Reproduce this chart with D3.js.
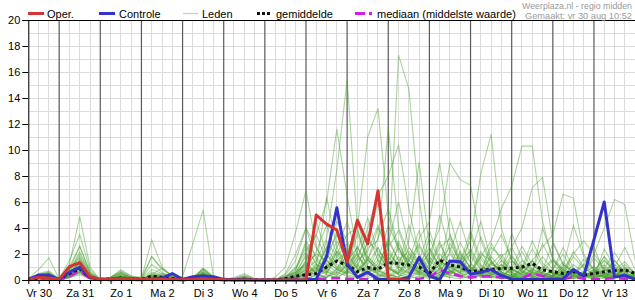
<!DOCTYPE html>
<html><head><meta charset="utf-8">
<script src="https://cdn.jsdelivr.net/npm/d3@7"></script>
<style>
html,body{margin:0;padding:0;background:#fff;}
svg{display:block;font-family:"Liberation Sans",Arial,sans-serif;}
</style></head>
<body><svg id="chart" width="635" height="300"></svg>
<script>
// ---- data ----
const dayLabels = ["Vr 30","Za 31","Zo 1","Ma 2","Di 3","Wo 4","Do 5","Vr 6","Za 7","Zo 8","Ma 9","Di 10","Wo 11","Do 12","Vr 13"];
const yTickLabels = [0,2,4,6,8,10,12,14,16,18,20];
const startHour = 6;      // Vr 30 06:00
const stepHours = 6;
const legendLabels = ["Oper.","Controle","Leden","gemiddelde","mediaan (middelste waarde)"];
const sourceText = "Weerplaza.nl - regio midden";
const madeText = "Gemaakt: vr 30 aug 10:52";

const oper = [0.05,0.2,0.15, 0.05,1.03,1.33,0.26, 0.05,0.08,0.1,0.1, 0.05,0.05,0.05,0.03, 0.02,0.05,0.1,0.05, 0.02,0,0,0, 0,0,0,0, 0,5.0,4.3,3.85, 1.4,4.6,2.77,6.87, 0.1,0.03,0];
const controle = [0.05,0.38,0.38, 0.05,0.6,0.97,0.2, 0.05,0.05,0.1,0.1, 0.05,0.05,0.15,0.5, 0.05,0.25,0.3,0.25, 0.05,0.02,0.02,0, 0,0,0,0, 0,0.05,1.8,5.56, 1.23,0.2,0.6,0.05, 0.05,0.02,0.2,1.74, 0.3,0.02,1.46,1.4, 0.45,0.6,0.8,0.35, 0.05,0.03,0.03,0.03, 0.03,0.1,0.8,0.3, 3.1,6.0,0.22,0.36, 0.05];
const gemiddelde = [0.05,0.15,0.2, 0.05,0.5,0.85,0.2, 0.05,0.05,0.15,0.1, 0.05,0.3,0.2,0.1, 0.05,0.1,0.3,0.1, 0.02,0.02,0.05,0.02, 0,0,0.1,0.3, 0.4,0.5,1.0,1.45, 1.15,0.64,0.95,0.82, 1.33,1.28,1.15,1.0, 0.5,1.54,1.15,1.0, 0.64,0.77,0.82,0.9, 0.9,1.0,1.28,0.77, 0.64,0.5,0.64,0.38, 0.5,0.64,0.72,0.77, 0.5];
const mediaan = [0,0.05,0.1, 0,0.3,0.7,0.1, 0,0,0.05,0, 0,0.05,0.05,0, 0,0,0.1,0, 0,0,0,0, 0,0,0,0.05, 0.1,0.1,0.1,0.15, 0.1,0.05,0.05,0.05, 0.05,0.1,0.1,0.1, 0.2,0.77,0.5,0.3, 0.2,0.25,0.3,0.2, 0.1,0.1,0.5,0.3, 0.1,0.05,0.25,0.1, 0.05,0.1,0.15,0.1, 0.05];

const leden = [
[0,.2,.3, 0,.5,1.0,.2, 0,.1,.3,.1, 0,.2,.1,0, 0,.1,.4,.1, 0,0,0,0, 0,0,.3,.6, 1.2,2.0,1.5,.8, 2.5,1.0,3.0,2.2, 1.5,17.3,14.7,6.2, 1.0,2.5,3.2,1.1, .5,1.8,.9,.3, .2,.6,1.2,.4, .1,.3,.8,.2, .5,1.0,.4,.2, .1],
[0,.1,.2, 0,.8,1.8,.4, 0,0,.2,.1, .1,.3,.2,.1, 0,.2,.8,.2, 0,0,.1,0, 0,0,.1,.3, .8,1.5,3.2,8.5, 15.4,4.0,1.2,2.5, 1.0,.6,2.0,1.2, .3,.8,1.5,.6, 3.5,1.2,.4,.8, 1.5,.6,.3,.2, .1,.5,2.2,1.0, .4,.3,.8,1.4, .5],
[0,.4,.6, 0,.7,2.2,.5, 0,.1,.5,.2, 0,.5,.3,.2, 0,.1,.9,.3, 0,0,.2,0, 0,0,0,.2, 1.5,3.5,6.0,11.6, 6.5,2.0,.8,1.5, 4.2,2.5,.9,.5, 1.2,3.0,.8,.3, .6,2.0,1.5,.5, .2,1.0,.5,.3, .8,2.5,.9,.3, .2,.4,1.2,.6, .2],
[0,.2,.1, 0,.4,.9,.2, 0,0,.1,0, 0,.1,0,0, 0,0,.3,0, 0,0,0,0, 0,0,.2,1.0, 2.5,1.2,.8,2.0, 3.5,4.0,11.0,13.2, 5.0,2.2,1.5,3.8, 1.0,.5,2.2,4.5, 1.8,.8,.5,1.2, .3,.2,.6,2.8, 1.2,.5,.3,.2, .8,1.5,.6,.2, .1],
[0,.3,.5, 0,.3,.6,.1, 0,.2,.6,.2, 0,1.8,.9,.3, 0,.1,.5,.1, 0,0,.1,0, 0,0,.4,1.5, 4.0,2.5,1.0,3.0, 1.5,.5,2.5,3.0, 11.7,4.0,2.0,.8, .5,1.5,.9,2.0, 1.0,.6,2.5,1.8, .5,.3,.2,.6, 1.5,.6,.3,.5, .2,.8,.4,.3, .2],
[0,.1,.1, 0,.2,.5,.1, 0,0,.1,0, 0,0,0,0, 0,0,.2,0, 0,0,0,0, 0,0,0,.1, .5,.8,2.5,4.5, 3.0,1.5,4.0,6.5, 8.0,10.4,5.5,2.0, .8,.4,1.0,.6, 2.0,4.5,1.5,.6, .3,.8,1.5,.4, .2,.1,.5,1.2, 2.5,.6,.3,.8, .4],
[0,.5,.7, .1,1.0,2.6,.6, 0,.2,.8,.3, .1,.4,.2,.1, 0,.2,.6,.2, 0,.1,.3,.1, 0,0,.1,.5, 2.0,1.0,6.4,2.5, 1.0,3.5,1.5,.8, 2.0,1.2,3.0,9.1, 2.5,1.0,.5,1.8, .6,.3,1.2,2.0, .8,.5,1.5,.6, .3,1.0,.4,.2, .6,1.8,.5,.3, .2],
[0,.2,.2, 0,.6,1.5,.3, 0,.1,.4,.1, 0,.3,.5,.2, 0,.1,.6,.1, 0,0,.1,0, 0,0,.2,.8, 3.0,1.8,.6,1.5, 2.2,.8,1.5,4.0, 2.5,1.0,.6,3.2, 4.5,9.0,3.5,1.2, 2.0,.8,.4,1.5, .6,2.2,.8,.3, .1,.5,1.8,.9, .4,.2,1.0,2.5, .8],
[0,.1,.3, 0,.3,.8,.2, 0,0,.2,.1, 0,.1,.3,.1, 0,0,.2,0, 0,0,0,0, 0,0,.1,.4, 1.0,.6,1.8,3.5, 1.2,2.0,.5,1.0, 3.0,1.5,2.2,1.2, 2.0,4.0,9.0,7.7, 7.3,3.0,1.2,.8, 2.5,1.0,.6,.3, .8,2.0,.6,.4, .2,.6,1.5,.5, .3],
[0,.2,.4, 0,.5,1.1,.2, 0,.1,.3,.1, 0,.2,.4,.2, 0,.1,.3,.1, 0,0,.2,0, 0,0,.2,.6, 1.8,.8,2.5,1.2, .6,1.8,3.5,1.5, .8,2.5,1.2,.6, 1.5,.8,2.8,1.5, 3.0,8.2,11.2,4.0, 1.5,.8,.4,1.0, .5,.3,1.2,.6, .4,1.5,.8,.3, .2],
[0,.3,.2, 0,.4,1.4,.3, 0,0,.2,.1, 0,.1,.1,0, 0,0,.4,.1, 0,0,0,0, 0,0,0,.3, .8,.4,1.0,2.2, 1.5,.6,1.8,1.0, 2.5,3.8,1.5,.7, .4,1.2,2.0,.9, .5,1.8,3.0,5.5, 7.2,10.3,10.3,4.5, 1.5,.8,.4,.6, 1.0,.5,.3,.8, .4],
[0,.1,.2, 0,.2,.7,.1, 0,0,.1,0, 0,0,.2,0, 0,0,.1,0, 0,0,0,0, 0,0,.1,.2, .6,.9,.5,1.8, 2.8,1.2,.6,2.5, 1.0,.5,1.5,2.8, 1.2,.6,.4,1.5, 2.2,1.0,.6,1.8, 2.5,4.0,7.1,7.9, 3.0,1.2,.6,.3, .8,.4,1.5,.6, .3],
[0,.2,.1, 0,.3,.9,.2, 0,.1,.2,.1, 0,.2,.3,.1, 0,0,.2,0, 0,0,.1,0, 0,0,0,.2, .4,1.2,.8,.5, 1.5,2.5,1.0,.6, 1.8,.9,2.5,1.4, .6,2.0,1.0,.5, 1.2,.6,2.8,1.5, .8,.4,1.5,2.5, 3.5,6.6,6.3,2.0, .8,.5,.3,1.0, .6],
[0,.3,.5, 0,.5,1.3,.4, 0,.1,.5,.2, 0,.6,.4,.2, 0,.2,.5,.1, 0,.1,.2,0, 0,0,.3,.9, 2.2,3.5,1.5,.8, .5,1.5,2.2,4.2, 1.8,.8,.5,1.2, 2.5,1.0,.6,2.2, .9,.4,1.8,.8, .5,1.5,.6,.3, .2,.8,2.0,3.0, 2.0,4.0,6.2,5.8, 1.5],
[0,.1,.2, 0,.4,1.0,.2, 0,0,.2,.1, 0,.1,.2,.1, 0,.1,.3,.1, 0,0,0,0, 0,.2,1.0,3.7, 6.9,2.5,1.2,.6, 2.0,4.5,1.8,.8, 3.2,1.5,.6,.4, .9,2.8,1.2,.5, .3,.8,.4,1.2, .6,.3,.8,.5, .2,1.2,.6,.3, .5,.2,.8,.4, .2],
[0,.2,.3, 0,.5,.8,.2, 0,.1,.3,.1, 0,.3,.2,.1, .3,2.8,5.4,.3, 0,.1,.2,0, 0,0,.5,2.0, 4.0,1.5,.8,2.5, 4.5,1.8,.9,.5, 1.4,3.0,1.2,.6, .4,1.5,2.5,1.0, .6,2.2,.9,.4, 1.8,.7,.3,.9, 1.6,.6,.3,.2, .5,1.2,.4,.3, .1],
[0,.4,.5, 0,1.2,4.9,1.0, 0,.2,.5,.2, .1,3.1,1.0,.3, 0,.1,.4,.1, 0,0,.1,0, 0,0,.2,.5, 1.2,.6,3.0,1.8, .8,1.2,2.8,6.0, 2.2,1.0,.5,1.5, 3.8,1.6,.7,.4, 1.0,.5,2.0,3.5, 1.5,.6,.3,.8, 2.8,1.2,.5,.3, .6,1.8,.9,.4, .2],
[.1,.8,1.7, .1,1.5,3.5,.8, 0,.2,.7,.3, .2,1.8,.8,.3, 0,.2,.9,.2, 0,.2,.5,.1, 0,0,0,.4, 1.5,4.5,2.0,1.0, .6,2.2,4.8,2.0, .9,.5,1.8,.8, 3.2,1.4,.6,1.0, 2.4,1.1,.5,.3, .9,2.6,1.2,.5, .3,.8,.4,1.6, .7,.3,.2,.9, .4],
[0,.3,.4, 0,.8,2.6,.6, 0,.1,.4,.2, .1,1.2,.6,.2, 0,.1,.7,.2, 0,.1,.3,0, 0,0,.1,.3, .9,2.2,4.2,2.0, 1.0,.5,1.6,3.2, 5.5,2.5,1.0,.6, 1.8,.8,3.5,1.6, .7,.4,1.4,.6, 3.6,1.6,.7,.3, .5,1.4,.6,.3, .2,2.4,1.0,.5, .3],
[0,.2,.3, 0,.6,2.0,.5, 0,0,.3,.1, 0,.4,.3,.1, 0,0,.5,.1, 0,0,.1,0, 0,0,0,.1, .3,.6,1.4,3.8, 2.0,.9,.5,1.3, 2.8,6.0,2.6,1.2, .6,.3,1.0,2.9, 1.3,.6,.3,.8, 1.9,.8,2.4,1.1, .5,.3,.9,.4, 1.7,.8,.4,.2, .1],
[0,.1,.1, 0,.2,.6,.1, 0,0,.1,0, 0,.1,.1,0, 0,0,.1,0, 0,0,0,0, 0,0,0,.2, .6,.3,.9,1.6, .7,2.6,1.1,.5, .3,1.0,4.2,1.8, .8,.4,.2,.6, 1.1,3.3,1.4,.6, .3,.2,.7,1.8, .8,.4,.2,.6, .3,.9,2.1,.9, .4],
[0,.4,.6, 0,.9,1.7,.4, 0,.2,.6,.2, .1,.8,.5,.2, 0,.1,.8,.2, 0,.1,.4,.1, 0,0,.2,.7, 2.8,1.2,.6,.4, 1.2,3.8,1.6,.7, .4,.2,.9,2.6, 1.2,5.0,2.2,.9, .5,.3,.8,.4, .2,.9,3.0,1.3, .6,.3,.1,.5, .3,.2,.6,1.2, .5],
[0,.1,.2, 0,.3,1.1,.2, 0,0,.1,0, 0,.2,.1,0, 0,0,.3,0, 0,0,0,0, 0,0,.1,.3, .7,.4,.2,.9, 1.8,.8,.4,2.0, .9,.4,.2,.7, 2.2,1.0,4.8,2.0, .9,.4,.2,.6, .3,1.2,.5,4.0, 1.7,.8,.4,.2, .7,.3,.2,.5, .2],
[0,.2,.3, 0,.4,1.6,.3, 0,.1,.3,.1, 0,.2,.2,.1, 0,.1,.5,.1, 0,0,.1,0, 0,0,0,.2, .5,1.0,.5,2.2, 1.0,.5,1.6,.7, .3,2.8,1.2,.5, .2,.6,.3,1.4, 3.8,1.6,.7,.3, .8,.4,.2,.6, .3,1.0,4.2,1.8, .8,.4,1.0,.4, .2],
[0,.1,.1, 0,.2,.4,.1, 0,0,.1,0, 0,0,0,0, 0,0,.1,0, 0,0,0,0, 0,0,0,0, .2,.1,.4,.2, .6,.3,.1,.4, .2,.8,.3,.1, .5,.2,.6,.3, .1,.4,.2,.1, .3,.1,.5,.2, .1,.3,.1,.2, .1,.4,.2,.1, .1],
[0,.3,.2, 0,.5,1.3,.3, 0,.1,.2,.1, 0,.3,.2,.1, 0,.1,.4,.1, 0,0,.1,0, 0,0,.1,.4, 1.1,.5,.2,.8, .4,.2,.6,.3, .9,.4,.2,.5, .3,1.6,.7,.3, .2,.5,.2,1.0, .5,.2,.1,.3, .6,.3,.1,.4, 2.0,.9,.4,.2, .1],
[0,.2,.4, 0,.3,.9,.2, 0,0,.2,.1, 0,.2,.1,0, 0,0,.2,0, 0,0,0,0, 0,0,0,.1, .3,.8,.4,.2, .7,.3,.9,.4, .2,.6,.3,1.1, .5,.2,.7,.3, .8,.4,.2,.5, .2,.7,.3,.1, .4,.2,.6,.3, .1,.5,.2,.8, .3],
[0,.1,.2, 0,.3,.7,.1, 0,0,.1,0, 0,.1,0,0, 0,0,.1,0, 0,0,0,0, 0,0,0,0, .1,.4,.2,.6, .3,.1,.4,.2, .5,.2,.1,.3, .1,.4,.2,.1, .3,.6,.3,.1, .2,.5,.2,.1, .3,.1,.2,.4, .2,.1,.3,.1, .1],
[0,.2,.1, 0,.6,1.2,.3, 0,.1,.3,.1, 0,.4,.9,.3, 0,.1,.6,.1, 0,0,.2,0, 0,0,.2,.6, 1.3,.6,2.0,.9, .5,1.1,.5,.2, .7,1.8,.8,.4, .2,.9,.4,.2, .6,.3,1.3,.6, .3,.2,.9,.4, .2,.6,.3,1.2, .5,.2,.7,.3, .2],
[0,.1,.3, 0,.2,.6,.2, 0,0,.2,.1, 0,.2,.1,0, 0,0,.2,0, 0,0,.1,0, 0,0,0,.2, .4,.2,.7,.3, 1.2,.5,.2,.8, .4,.2,1.5,.6, .3,.2,.5,.8, .4,.2,.6,.3, .9,.4,.2,.1, .3,.7,.3,.2, .5,.2,.4,.9, .3]
];

// ---- drawing ----
const svg = d3.select("#chart");
const W = 635, H = 300;
const nPts = controle.length;
const hourOf = i => startHour + i * stepHours;
const x = d3.scaleLinear().domain([startHour, hourOf(nPts - 1)]).range([28.3, 635.1]);
const y = d3.scaleLinear().domain([0, 20]).range([280, 20]);

const font = '"Liberation Sans", Arial, sans-serif';
const g = svg.append("g");

// horizontal grid (each unit)
g.append("g").selectAll("line").data(d3.range(1, 21)).join("line")
  .attr("x1", x.range()[0]).attr("x2", W).attr("y1", d => y(d)).attr("y2", d => y(d))
  .attr("stroke", "#dcdcdc").attr("stroke-width", 1).attr("shape-rendering", "crispEdges");

// vertical 6-hour grid
const hourTicks = d3.range(nPts).map(hourOf);
g.append("g").selectAll("line").data(hourTicks.filter(h => h % 24 !== 0)).join("line")
  .attr("x1", d => x(d)).attr("x2", d => x(d)).attr("y1", y(20)).attr("y2", y(0))
  .attr("stroke", "#dcdcdc").attr("stroke-width", 1).attr("shape-rendering", "crispEdges");

// day lines
const dayBounds = hourTicks.filter(h => h % 24 === 0 && x(h) < W - 2);
g.append("g").selectAll("line").data(dayBounds).join("line")
  .attr("x1", d => x(d)).attr("x2", d => x(d)).attr("y1", y(20)).attr("y2", y(0))
  .attr("stroke", "#5a5a5a").attr("stroke-width", 1.2);

const line = d3.line().defined(d => d != null).x((d, i) => x(hourOf(i))).y(d => y(d));

// members
g.append("g").selectAll("path").data(leden).join("path")
  .attr("d", d => line(d)).attr("fill", "none")
  .attr("stroke", "#4aa02e").attr("stroke-opacity", 0.45).attr("stroke-width", 1.1);

// median
g.append("path").attr("d", line(mediaan)).attr("fill", "none")
  .attr("stroke", "#d21ee6").attr("stroke-width", 2.6).attr("stroke-dasharray", "9,5");
// mean
g.append("path").attr("d", line(gemiddelde)).attr("fill", "none")
  .attr("stroke", "#111").attr("stroke-width", 3).attr("stroke-dasharray", "3,3");
// control
g.append("path").attr("d", line(controle)).attr("fill", "none")
  .attr("stroke", "#3333cc").attr("stroke-width", 3).attr("stroke-linejoin", "round");
// oper
g.append("path").attr("d", line(oper)).attr("fill", "none")
  .attr("stroke", "#d63333").attr("stroke-width", 3).attr("stroke-linejoin", "round");

// axes
const yAxis = d3.axisLeft(y).tickValues(yTickLabels).tickSize(6).tickPadding(2);
const ya = svg.append("g").attr("transform", `translate(${x.range()[0]},0)`).call(yAxis);
ya.select(".domain").attr("stroke", "#000");
ya.selectAll("text").attr("font-size", 11).attr("font-family", font).attr("fill", "#000");

const xAxis = d3.axisBottom(x).tickValues(hourTicks).tickSize(4).tickFormat("");
const xa = svg.append("g").attr("transform", `translate(0,${y(0)})`).call(xAxis);
xa.select(".domain").attr("stroke", "#000").attr("d", `M${x.range()[0]},0.5H${W}`);
xa.selectAll(".tick line").attr("stroke", "#000");

const noonHours = dayLabels.map((d, k) => 12 + 24 * k);
const xl = svg.append("g").attr("transform", `translate(0,${y(0)})`)
  .call(d3.axisBottom(x).tickValues(noonHours).tickSize(0).tickPadding(9)
    .tickFormat((h, k) => dayLabels[k]));
xl.select(".domain").remove();
xl.selectAll("text").attr("font-size", 11).attr("font-family", font).attr("fill", "#000");

// top border
svg.append("line").attr("x1", x.range()[0]).attr("x2", W).attr("y1", y(20)).attr("y2", y(20))
  .attr("stroke", "#000").attr("stroke-width", 1).attr("shape-rendering", "crispEdges");

// legend
const lg = svg.append("g").attr("font-family", font).attr("font-size", 11).attr("fill", "#000");
const ly = 13.5;
lg.append("line").attr("x1", 28).attr("x2", 44).attr("y1", ly).attr("y2", ly).attr("stroke", "#d63333").attr("stroke-width", 3);
lg.append("text").attr("x", 47).attr("y", ly + 4).text(legendLabels[0]);
lg.append("line").attr("x1", 99).attr("x2", 115).attr("y1", ly).attr("y2", ly).attr("stroke", "#3333cc").attr("stroke-width", 3);
lg.append("text").attr("x", 119).attr("y", ly + 4).text(legendLabels[1]);
lg.append("line").attr("x1", 183).attr("x2", 198).attr("y1", ly).attr("y2", ly).attr("stroke", "#b8dcaa").attr("stroke-width", 1.2);
lg.append("text").attr("x", 202).attr("y", ly + 4).text(legendLabels[2]);
lg.append("line").attr("x1", 257).attr("x2", 272).attr("y1", ly).attr("y2", ly).attr("stroke", "#111").attr("stroke-width", 3).attr("stroke-dasharray", "3,2");
lg.append("text").attr("x", 276).attr("y", ly + 4).text(legendLabels[3]);
lg.append("line").attr("x1", 355).attr("x2", 372).attr("y1", ly).attr("y2", ly).attr("stroke", "#d21ee6").attr("stroke-width", 3).attr("stroke-dasharray", "10,4");
lg.append("text").attr("x", 377).attr("y", ly + 4).text(legendLabels[4]);

// source text
const st = svg.append("g").attr("font-family", font).attr("font-size", 8.6).attr("fill", "#9a9a9a").attr("text-anchor", "end");
st.append("text").attr("x", 632).attr("y", 9.2).attr("textLength", 110).attr("lengthAdjust", "spacingAndGlyphs").text(sourceText);
st.append("text").attr("x", 632).attr("y", 18.8).attr("textLength", 107).attr("lengthAdjust", "spacingAndGlyphs").text(madeText);
</script>
</body></html>
